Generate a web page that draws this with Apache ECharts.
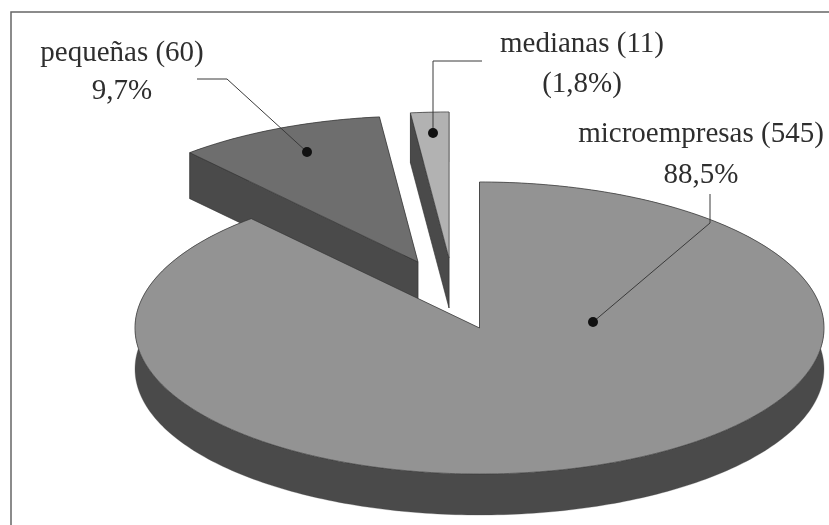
<!DOCTYPE html>
<html>
<head>
<meta charset="utf-8">
<style>
  html, body { margin: 0; padding: 0; background: #fff; }
  #chart { width: 829px; height: 525px; }
</style>
<script src="https://cdn.jsdelivr.net/npm/echarts@6/dist/echarts.min.js"></script>
</head>
<body>
<div id="chart"></div>
<script>
const categories = ["microempresas", "pequeñas", "medianas"];
const counts = [545, 60, 11];
const percents = ["88,5%", "9,7%", "(1,8%)"];

// ellipse of the pie and how far each slice is pulled out
const center = [479.5, 328];
const rx = 344.5;
const ry = 146;
const pulls = [[0, 0], [-61.5, -66], [-30.5, -70]];
const depths = [41, 46, 50];
const drawOrder = [3, 1, 2];
const topColors = ["#939393", "#6e6e6e", "#b2b2b2"];
const sideColor = "#4a4a4a";
const edgeColor = "#333";

const total = counts.reduce((a, b) => a + b, 0);

function slicePoint(cx, cy, deg) {
  const rad = (deg * Math.PI) / 180;
  return [cx + rx * Math.sin(rad), cy - ry * Math.cos(rad)];
}

function renderSlice(params, api) {
  const i = params.dataIndex;
  let startDeg = 0;
  for (let k = 0; k < i; k++) startDeg += (counts[k] / total) * 360;
  const endDeg = startDeg + (api.value(0) / total) * 360;

  const cx = center[0] + pulls[i][0];
  const cy = center[1] + pulls[i][1];
  const d = depths[i];
  const arc = [];
  for (let a = startDeg; a < endDeg; a += 1) arc.push(slicePoint(cx, cy, a));
  arc.push(slicePoint(cx, cy, endDeg));

  const first = arc[0];
  const last = arc[arc.length - 1];
  const down = (p) => [p[0], p[1] + d];
  const base = drawOrder[i] * 10;
  const poly = (points, fill, z2, edged) => ({
    type: "polygon",
    shape: { points },
    z2: base + z2,
    style: { fill, stroke: edged ? edgeColor : sideColor, lineWidth: edged ? 0.6 : 0.3 },
  });

  return {
    type: "group",
    children: [
      poly(arc.concat(arc.slice().reverse().map(down)), sideColor, 0, false),
      // only the wall on the start side can be seen, the other one stays behind the top face
      poly([[cx, cy], last, down(last), [cx, cy + d]], sideColor, 0, false),
      poly([[cx, cy], first, down(first), [cx, cy + d]], sideColor, 1, true),
      poly([[cx, cy]].concat(arc), topColors[i], 2, true),
    ],
  };
}

// label lines, text centres and leader lines
const labelSpots = [
  { x: 701, y: [134, 175] },
  { x: 122, y: [53, 91] },
  { x: 582, y: [44, 84] },
];
const leaders = [
  [[710, 194], [710, 223], [593, 322]],
  [[197, 79], [227, 79], [307, 152]],
  [[482, 61], [433, 61], [433, 133]],
];

const graphics = [
  {
    type: "rect",
    shape: { x: 11, y: 12, width: 840, height: 540 },
    style: { fill: "none", stroke: "#666", lineWidth: 1.5 },
    z: 1,
  },
];
categories.forEach((name, i) => {
  const lines = [name + " (" + counts[i] + ")", percents[i]];
  lines.forEach((text, k) => {
    graphics.push({
      type: "text",
      x: labelSpots[i].x,
      y: labelSpots[i].y[k],
      z: 10,
      style: {
        text,
        fill: "#2e2e2e",
        font: '29px "Liberation Serif"',
        textAlign: "center",
        textVerticalAlign: "middle",
      },
    });
  });
  const pts = leaders[i];
  graphics.push({
    type: "polyline",
    shape: { points: pts },
    z: 10,
    style: { fill: "none", stroke: "#3a3a3a", lineWidth: 1 },
  });
  graphics.push({
    type: "circle",
    shape: { cx: pts[2][0], cy: pts[2][1], r: 5 },
    z: 10,
    style: { fill: "#111" },
  });
});

const myChart = echarts.init(document.getElementById("chart"));
myChart.setOption({
  backgroundColor: "#fff",
  animation: false,
  graphic: graphics,
  series: [
    {
      type: "custom",
      coordinateSystem: "none",
      renderItem: renderSlice,
      data: counts.map((v, i) => ({ value: [v], name: categories[i] })),
      silent: true,
    },
  ],
});
</script>
</body>
</html>
